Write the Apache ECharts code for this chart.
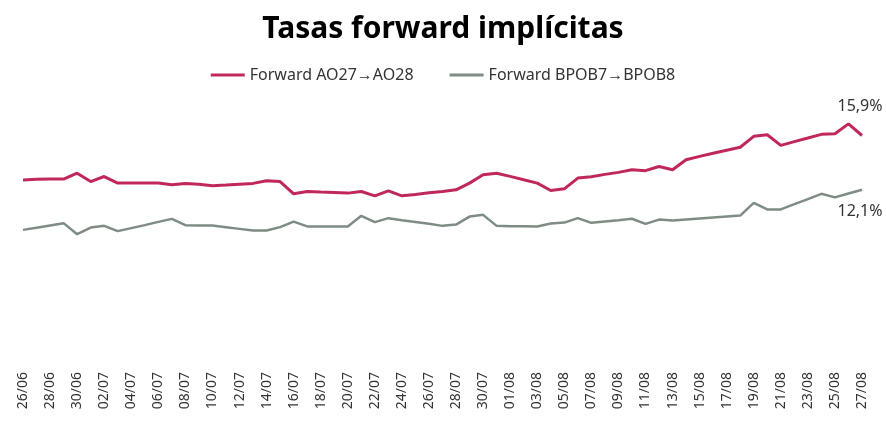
<!DOCTYPE html>
<html>
<head>
<meta charset="utf-8">
<title>Tasas forward implícitas</title>
<style>
    html, body { margin: 0; padding: 0; background: #fff; }
    .chart { width: 886px; height: 432px; }
</style>
<script src="https://cdn.jsdelivr.net/npm/echarts@6/dist/echarts.min.js"></script>
</head>
<body>
<div class="chart"></div>
<script>
// fechas (26/06 a 27/08)
var fechas = [
    "26/06", "27/06", "28/06", "29/06", "30/06",
    "01/07", "02/07", "03/07", "04/07", "05/07", "06/07", "07/07", "08/07", "09/07", "10/07",
    "11/07", "12/07", "13/07", "14/07", "15/07", "16/07", "17/07", "18/07", "19/07", "20/07",
    "21/07", "22/07", "23/07", "24/07", "25/07", "26/07", "27/07", "28/07", "29/07", "30/07", "31/07",
    "01/08", "02/08", "03/08", "04/08", "05/08", "06/08", "07/08", "08/08", "09/08", "10/08",
    "11/08", "12/08", "13/08", "14/08", "15/08", "16/08", "17/08", "18/08", "19/08", "20/08",
    "21/08", "22/08", "23/08", "24/08", "25/08", "26/08", "27/08"
];

var nombres = ["Forward AO27\u2192AO28", "Forward BPOB7\u2192BPOB8"];

// Forward AO27 -> AO28 (%)
var fwdAO = [
    12.80, 12.85, 12.86, 12.86, 13.27,
    12.69, 13.04, 12.58, 12.58, 12.58, 12.58, 12.46, 12.56, 12.50, 12.39,
    12.44, 12.50, 12.56, 12.74, 12.69, 11.83, 11.99, 11.95, 11.92, 11.88,
    11.99, 11.69, 12.04, 11.69, 11.79, 11.90, 12.00, 12.11, 12.58, 13.16, 13.27,
    13.05, 12.81, 12.58, 12.06, 12.18, 12.93, 13.02, 13.19, 13.33, 13.51,
    13.45, 13.74, 13.51, 14.21, 14.45, 14.67, 14.88, 15.09, 15.85, 15.96,
    15.22, 15.48, 15.73, 15.99, 16.03, 16.72, 15.91
];

// Forward BPOB7 -> BPOB8 (%)
var fwdBPOB = [
    9.31, 9.46, 9.62, 9.78, 9.01,
    9.47, 9.59, 9.22, 9.43, 9.64, 9.87, 10.08, 9.64, 9.62, 9.62,
    9.50, 9.38, 9.26, 9.26, 9.50, 9.89, 9.55, 9.54, 9.54, 9.54,
    10.29, 9.85, 10.13, 9.99, 9.86, 9.73, 9.59, 9.68, 10.24, 10.36, 9.59,
    9.57, 9.56, 9.54, 9.75, 9.82, 10.13, 9.80, 9.89, 9.98, 10.09,
    9.73, 10.03, 9.96, 10.03, 10.10, 10.17, 10.24, 10.31, 11.20, 10.74,
    10.74, 11.11, 11.46, 11.83, 11.58, 11.85, 12.11
];

(function () {
    var myChart = echarts.init(document.querySelector('.chart'));
    var fuente = "'Noto Sans', sans-serif";

    // etiqueta del ultimo punto, con coma decimal
    function etiquetaFinal(params) {
        return params.value.toFixed(1).replace('.', ',') + '%';
    }

    var option = {
        color: ["#c0285c", "#7f8c84"],
        title: {
            text: 'Tasas forward implícitas',
            left: 'center',
            top: 9,
            textStyle: {
                fontFamily: fuente,
                fontSize: 30,
                fontWeight: 'bold',
                color: '#000'
            }
        },
        legend: {
            top: 62,
            left: 'center',
            icon: 'rect',
            itemWidth: 34,
            itemHeight: 3,
            itemGap: 36,
            textStyle: {
                fontFamily: fuente,
                fontSize: 16,
                color: '#333'
            },
            data: nombres
        },
        grid: {
            left: 23,
            right: 24,
            top: 77,
            bottom: 69
        },
        xAxis: {
            type: 'category',
            boundaryGap: false,
            data: fechas,
            axisLine: { show: false },
            axisTick: { show: false },
            axisLabel: {
                rotate: 90,
                interval: 1,
                margin: 9,
                fontFamily: fuente,
                fontSize: 14,
                color: '#333'
            }
        },
        yAxis: {
            type: 'value',
            min: 0,
            max: 20,
            show: false,
            splitLine: { show: false }
        },
        series: [
            {
                name: nombres[0],
                type: 'line',
                data: fwdAO,
                showSymbol: false,
                lineStyle: { width: 3 },
                endLabel: {
                    show: true,
                    distance: 0,
                    align: 'center',
                    verticalAlign: 'middle',
                    offset: [-2, -29],
                    fontFamily: fuente,
                    fontSize: 16,
                    color: '#333',
                    formatter: etiquetaFinal
                }
            },
            {
                name: nombres[1],
                type: 'line',
                data: fwdBPOB,
                showSymbol: false,
                lineStyle: { width: 2.5 },
                endLabel: {
                    show: true,
                    distance: 0,
                    align: 'center',
                    verticalAlign: 'middle',
                    offset: [-2, 22],
                    fontFamily: fuente,
                    fontSize: 16,
                    color: '#333',
                    formatter: etiquetaFinal
                }
            }
        ]
    };
    myChart.setOption(option);
    window.addEventListener('resize', function () {
        myChart.resize();
    });
})();
</script>
</body>
</html>
